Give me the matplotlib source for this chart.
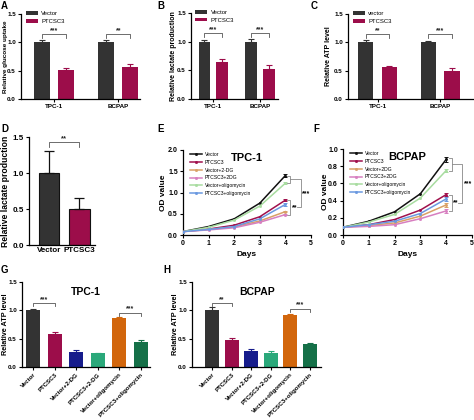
import matplotlib
matplotlib.use("Agg")
import matplotlib.pyplot as plt
import numpy as np

plt.rcParams['font.family'] = ['Liberation Sans', 'DejaVu Sans']
plt.rcParams['axes.linewidth'] = 0.9

# ---------------- data ----------------
groups = ["TPC-1", "BCPAP"]
glucose_vector = [1.00, 1.00]
glucose_vector_err = [0.05, 0.04]
glucose_ptcsc3 = [0.51, 0.57]
glucose_ptcsc3_err = [0.03, 0.04]

lactate_vector = [1.00, 1.00]
lactate_vector_err = [0.03, 0.04]
lactate_ptcsc3 = [0.64, 0.53]
lactate_ptcsc3_err = [0.06, 0.07]

atp_vector = [1.00, 1.00]
atp_vector_err = [0.04, 0.03]
atp_ptcsc3 = [0.56, 0.50]
atp_ptcsc3_err = [0.03, 0.04]

d_labels = ["Vector", "PTCSC3"]
d_values = [1.00, 0.50]
d_err = [0.30, 0.15]

days = [0, 1, 2, 3, 4]
line_labels_e = ["Vector", "PTCSC3", "Vector+2-DG", "PTCSC3+2DG",
                 "Vector+oligomycin", "PTCSC3+oligomycin"]
line_labels_f = ["Vector", "PTCSC3", "Vector+2DG", "PTCSC3+2DG",
                 "Vector+oligomycin", "PTCSC3+oligomycin"]
od_tpc = [
    [0.08, 0.20, 0.38, 0.75, 1.40],
    [0.08, 0.14, 0.23, 0.43, 0.82],
    [0.08, 0.13, 0.19, 0.33, 0.55],
    [0.08, 0.12, 0.17, 0.30, 0.48],
    [0.08, 0.18, 0.35, 0.68, 1.22],
    [0.08, 0.13, 0.20, 0.38, 0.72],
]
od_tpc_err = [0.03, 0.03, 0.02, 0.02, 0.03, 0.03]
od_bcpap = [
    [0.09, 0.16, 0.27, 0.48, 0.88],
    [0.09, 0.12, 0.18, 0.29, 0.47],
    [0.09, 0.11, 0.14, 0.22, 0.35],
    [0.09, 0.10, 0.12, 0.19, 0.28],
    [0.09, 0.15, 0.24, 0.43, 0.75],
    [0.09, 0.12, 0.16, 0.25, 0.42],
]
od_bcpap_err = [0.03, 0.02, 0.02, 0.02, 0.02, 0.02]

atp_groups = ["Vector", "PTCSC3", "Vector+2-DG", "PTCSC3+2-DG",
              "Vector+oligomycin", "PTCSC3+oligomycin"]
atp_tpc = [1.00, 0.59, 0.27, 0.24, 0.86, 0.45]
atp_tpc_err = [0.03, 0.03, 0.03, 0.01, 0.03, 0.03]
atp_bcpap = [1.00, 0.48, 0.28, 0.25, 0.92, 0.40]
atp_bcpap_err = [0.06, 0.04, 0.03, 0.03, 0.02, 0.03]

# ---------------- styles ----------------
C_DARK = '#333333'
C_RED = '#9c0d4a'
bar6_colors = ['#333333', '#9c0d4a', '#161c8c', '#2aa87a', '#d2660c', '#157048']
line_colors = ['#111111', '#a0104c', '#d9a066', '#d77fc0', '#a8dca0', '#6a98e0']

W, H = 474, 420
fig = plt.figure(figsize=(W / 100, H / 100), dpi=100)


def px_axes(l, t, r, b):
    ax = fig.add_axes([l / W, 1 - b / H, (r - l) / W, (b - t) / H])
    ax._px = (l, t, r, b)
    return ax


def set_ylabel_px(ax, text, x_center_px, fs):
    # label anchor is the right edge of the rotated text
    l, t, r, b = ax._px
    x_right = x_center_px + 0.55 * fs * 100 / 72
    ax.set_ylabel(text, fontsize=fs, fontweight='bold')
    ax.yaxis.set_label_coords((x_right - l) / (r - l), 0.5)


def style(ax, fs=4.8):
    ax.spines['top'].set_visible(False)
    ax.spines['right'].set_visible(False)
    ax.tick_params(axis='both', direction='out', length=2.5, width=0.8,
                   labelsize=fs, pad=1.2)
    for lab in ax.get_xticklabels() + ax.get_yticklabels():
        lab.set_fontweight('bold')


def bracket(ax, x1, x2, y, drop, text, fs=5, color='#555555'):
    ax.plot([x1, x1, x2, x2], [y - drop, y, y, y - drop], color=color, lw=0.6,
            clip_on=False)
    ax.text((x1 + x2) / 2, y, text, ha='center', va='bottom', fontsize=fs,
            fontweight='bold', color='#222222')


def panel_label(x, y, s):
    fig.text(x / W, 1 - y / H, s, fontsize=7, fontweight='bold', ha='left', va='top')


def grouped(ax, v, ve, p, pe, ylabel, ylab_x, sig, xlim, leg_vec="Vector", ylab_fs=5):
    x = np.arange(len(groups))
    off = 0.19
    w = 0.25
    ax.bar(x - off, v, w, color=C_DARK, label=leg_vec, zorder=2)
    ax.bar(x + off, p, w, color=C_RED, label="PTCSC3", zorder=2)
    ax.errorbar(x - off, v, yerr=[np.zeros(len(v)), ve], fmt='none', ecolor=C_DARK,
                elinewidth=0.8, capsize=2.2, capthick=0.8, zorder=3)
    ax.errorbar(x + off, p, yerr=[np.zeros(len(p)), pe], fmt='none', ecolor=C_RED,
                elinewidth=0.8, capsize=2.2, capthick=0.8, zorder=3)
    ax.set_ylim(0, 1.5)
    ax.set_yticks([0, 0.5, 1.0, 1.5])
    ax.set_xlim(*xlim)
    ax.set_xticks(x)
    ax.set_xticklabels(groups)
    set_ylabel_px(ax, ylabel, ylab_x, ylab_fs)
    style(ax, fs=4.5)
    for i, s in enumerate(sig):
        bracket(ax, x[i] - off, x[i] + off, 1.15, 0.07, s, fs=5)
    ax.legend(loc='upper left', bbox_to_anchor=(0.02, 1.06), fontsize=4.3, frameon=False,
              handlelength=2.0, handleheight=0.5, handletextpad=0.6, labelspacing=0.45,
              borderaxespad=0)


# Panel A
axA = px_axes(21, 14, 140, 99)
grouped(axA, glucose_vector, glucose_vector_err, glucose_ptcsc3, glucose_ptcsc3_err,
        "Relative glucose uptake", 4, ["***", "**"], (-0.52, 1.34), ylab_fs=4.6)
panel_label(1, 1, "A")

# Panel B
axB = px_axes(191, 13, 278, 99)
grouped(axB, lactate_vector, lactate_vector_err, lactate_ptcsc3, lactate_ptcsc3_err,
        "Relative lactate production", 173, ["***", "***"], (-0.48, 1.39))
panel_label(157, 1, "B")

# Panel C
axC = px_axes(348, 14, 473, 99)
grouped(axC, atp_vector, atp_vector_err, atp_ptcsc3, atp_ptcsc3_err,
        "Relative ATP level", 328, ["**", "***"], (-0.47, 1.52), leg_vec="vector")
panel_label(311, 1, "C")

# Panel D
axD = px_axes(29, 137, 95, 245)
xd = np.arange(len(d_labels))
axD.bar(xd, d_values, 0.66, color=[C_DARK, C_RED], edgecolor='#111111', linewidth=0.8,
        zorder=2)
axD.errorbar(xd, d_values, yerr=[np.zeros(2), d_err], fmt='none', ecolor='#111111',
             elinewidth=0.9, capsize=3.5, capthick=0.9, zorder=3)
axD.set_ylim(0, 1.5)
axD.set_yticks([0, 0.5, 1.0, 1.5])
axD.set_xlim(-0.66, 1.51)
axD.set_xticks(xd)
axD.set_xticklabels(d_labels)
set_ylabel_px(axD, "Relative lactate production", 5, 6.2)
style(axD, fs=5.8)
axD.tick_params(axis='x', length=0)
bracket(axD, 0, 1, 1.43, 0.07, "**", fs=5.5)
panel_label(1, 124, "D")


# Panels E / F
def growth(ax, data, errs, labels, title, ylim, yticks, ylab_x):
    for i, (series, lab) in enumerate(zip(data, labels)):
        ax.plot(days, series, color=line_colors[i], lw=1.1, label=lab, zorder=3,
                marker='s', markersize=1.0)
        ax.errorbar([days[-1]], [series[-1]], yerr=errs[i], fmt='none',
                    ecolor=line_colors[i], elinewidth=0.7, capsize=1.5, capthick=0.7,
                    zorder=3)
    ax.set_xlim(0, 5)
    ax.set_xticks([0, 1, 2, 3, 4, 5])
    ax.set_ylim(*ylim)
    ax.set_yticks(yticks)
    ax.set_xlabel("Days", fontsize=6, fontweight='bold', labelpad=3)
    set_ylabel_px(ax, "OD value", ylab_x, 6)
    style(ax, fs=5)
    ax.text(0.5, 0.97, title, transform=ax.transAxes, fontsize=8, fontweight='bold',
            ha='center', va='top')
    ax.legend(loc='upper left', bbox_to_anchor=(0.04, 1.0), fontsize=3.6, frameon=False,
              handlelength=2.3, handletextpad=0.6, labelspacing=0.55, borderaxespad=0)


axE = px_axes(183, 150, 311, 235)
growth(axE, od_tpc, od_tpc_err, line_labels_e, "TPC-1", (0, 2.0),
       [0, 0.5, 1.0, 1.5, 2.0], 162)
g = '#888888'
axE.plot([4.08, 4.18, 4.18, 4.08], [1.40, 1.40, 1.22, 1.22], color=g, lw=0.6, clip_on=False)
axE.plot([4.08, 4.18, 4.18, 4.08], [0.82, 0.82, 0.48, 0.48], color=g, lw=0.6, clip_on=False)
axE.plot([4.18, 4.6, 4.6, 4.45], [1.31, 1.31, 0.65, 0.65], color=g, lw=0.6, clip_on=False)
axE.text(4.26, 0.65, "**", fontsize=5, fontweight='bold', va='center', ha='left')
axE.text(4.65, 0.98, "***", fontsize=5, fontweight='bold', va='center', ha='left')
panel_label(157, 124, "E")

axF = px_axes(343, 149, 472, 235)
growth(axF, od_bcpap, od_bcpap_err, line_labels_f, "BCPAP", (0, 1.0),
       [0, 0.2, 0.4, 0.6, 0.8, 1.0], 324)
axF.plot([4.1, 4.22, 4.22, 4.1], [0.90, 0.90, 0.75, 0.75], color=g, lw=0.6, clip_on=False)
axF.plot([4.1, 4.22, 4.22, 4.1], [0.47, 0.47, 0.28, 0.28], color=g, lw=0.6, clip_on=False)
axF.plot([4.22, 4.62, 4.62, 4.45], [0.83, 0.83, 0.37, 0.37], color=g, lw=0.6, clip_on=False)
axF.text(4.27, 0.37, "**", fontsize=5, fontweight='bold', va='center', ha='left')
axF.text(4.68, 0.60, "***", fontsize=5, fontweight='bold', va='center', ha='left')
panel_label(313, 124, "F")


# Panels G / H
def atp6(ax, vals, errs, title, xlim, width, sigs, title_x, ylab_x):
    x = np.arange(len(atp_groups))
    ax.bar(x, vals, width, color=bar6_colors, zorder=2)
    for i in range(len(x)):
        ax.errorbar([x[i]], [vals[i]], yerr=[[0], [errs[i]]], fmt='none',
                    ecolor=bar6_colors[i], elinewidth=0.8, capsize=2.2, capthick=0.8,
                    zorder=3)
    ax.set_ylim(0, 1.5)
    ax.set_yticks([0, 0.5, 1.0, 1.5])
    ax.set_xlim(*xlim)
    ax.set_xticks(x)
    ax.set_xticklabels(atp_groups, rotation=45, ha='right', rotation_mode='anchor')
    set_ylabel_px(ax, "Relative ATP level", ylab_x, 5.2)
    style(ax, fs=4.4)
    ax.tick_params(axis='y', labelsize=4.5)
    ax.text(title_x, 1.32, title, fontsize=7.5, fontweight='bold', ha='center',
            va='center')
    for (a, b, y, s) in sigs:
        bracket(ax, a, b, y, 0.06, s, fs=5)


axG = px_axes(22, 282, 150, 367)
atp6(axG, atp_tpc, atp_tpc_err, "TPC-1", (-0.51, 5.42), 0.65,
     [(0, 1, 1.13, "***"), (4, 5, 0.96, "***")], 2.45, 5)
panel_label(1, 265, "G")

axH = px_axes(192, 282, 321, 367)
atp6(axH, atp_bcpap, atp_bcpap_err, "BCPAP", (-1.05, 5.57), 0.72,
     [(0, 1, 1.13, "**"), (4, 5, 1.03, "***")], 2.3, 175)
panel_label(163, 265, "H")

fig.savefig("out.png", dpi=100)
